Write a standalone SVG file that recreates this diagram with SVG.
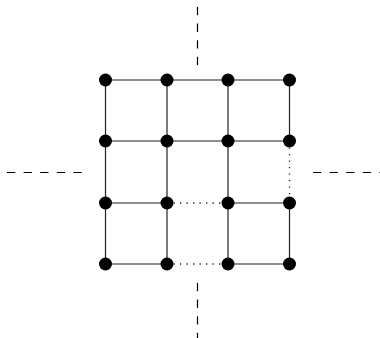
<svg xmlns="http://www.w3.org/2000/svg" width="380" height="338" viewBox="0 0 380 338">
<style>
.e{stroke:#222;stroke-width:1.2;fill:none}
.d{stroke:#222;stroke-width:1.3;fill:none;stroke-dasharray:1.3,5.2}
.g{stroke:#000;stroke-width:1.2;fill:none;stroke-dasharray:8.3,8.3}
.n{fill:#000}
</style>
<rect width="380" height="338" fill="#fff"/>
<g id="guides">
<line class="g" x1="197.5" y1="7" x2="197.5" y2="66"/>
<line class="g" x1="197.5" y1="283" x2="197.5" y2="340"/>
<line class="g" x1="7" y1="172.5" x2="82" y2="172.5"/>
<line class="g" x1="313" y1="172.5" x2="382" y2="172.5"/>
</g>
<g id="connectors">
<line class="e" x1="105.5" y1="80" x2="289.5" y2="80"/>
<line class="e" x1="105.5" y1="141" x2="289.5" y2="141"/>
<line class="e" x1="105.5" y1="203" x2="167" y2="203"/>
<line class="d" x1="167" y1="203" x2="228" y2="203"/>
<line class="e" x1="228" y1="203" x2="289.5" y2="203"/>
<line class="e" x1="105.5" y1="264" x2="167" y2="264"/>
<line class="d" x1="167" y1="264" x2="228" y2="264"/>
<line class="e" x1="228" y1="264" x2="289.5" y2="264"/>
<line class="e" x1="105.5" y1="80" x2="105.5" y2="264"/>
<line class="e" x1="167" y1="80" x2="167" y2="264"/>
<line class="e" x1="228" y1="80" x2="228" y2="264"/>
<line class="e" x1="289.5" y1="80" x2="289.5" y2="141"/>
<line class="d" x1="289.5" y1="141" x2="289.5" y2="203"/>
<line class="e" x1="289.5" y1="203" x2="289.5" y2="264"/>
</g>
<g id="n11"><circle class="n" cx="105.5" cy="80" r="6.5"/></g>
<g id="n12"><circle class="n" cx="167" cy="80" r="6.5"/></g>
<g id="n13"><circle class="n" cx="228" cy="80" r="6.5"/></g>
<g id="n14"><circle class="n" cx="289.5" cy="80" r="6.5"/></g>
<g id="n21"><circle class="n" cx="105.5" cy="141" r="6.5"/></g>
<g id="n22"><circle class="n" cx="167" cy="141" r="6.5"/></g>
<g id="n23"><circle class="n" cx="228" cy="141" r="6.5"/></g>
<g id="n24"><circle class="n" cx="289.5" cy="141" r="6.5"/></g>
<g id="n31"><circle class="n" cx="105.5" cy="203" r="6.5"/></g>
<g id="n32"><circle class="n" cx="167" cy="203" r="6.5"/></g>
<g id="n33"><circle class="n" cx="228" cy="203" r="6.5"/></g>
<g id="n34"><circle class="n" cx="289.5" cy="203" r="6.5"/></g>
<g id="n41"><circle class="n" cx="105.5" cy="264" r="6.5"/></g>
<g id="n42"><circle class="n" cx="167" cy="264" r="6.5"/></g>
<g id="n43"><circle class="n" cx="228" cy="264" r="6.5"/></g>
<g id="n44"><circle class="n" cx="289.5" cy="264" r="6.5"/></g>
</svg>
